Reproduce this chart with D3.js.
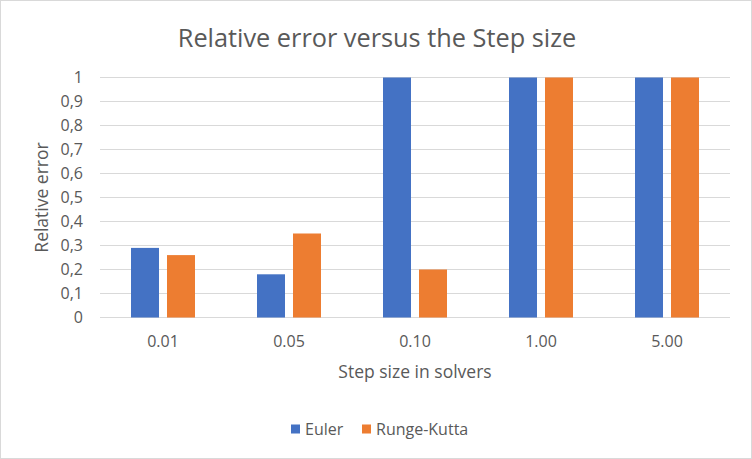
<!DOCTYPE html>
<html>
<head>
<meta charset="utf-8">
<script src="https://cdn.jsdelivr.net/npm/d3@7"></script>
<style>
  body { margin: 0; background: #fff; }
  text { font-family: "Open Sans", "Noto Sans", sans-serif; fill: #595959; }
</style>
</head>
<body>
<svg id="chart" width="752" height="459"></svg>
<script>
// chart data
const categories = ["0.01", "0.05", "0.10", "1.00", "5.00"];
const seriesNames = ["Euler", "Runge-Kutta"];
const euler = [0.29, 0.18, 1, 1, 1];
const rungeKutta = [0.26, 0.35, 0.2, 1, 1];
const yTicks = [0, 0.1, 0.2, 0.3, 0.4, 0.5, 0.6, 0.7, 0.8, 0.9, 1];
const yTickLabels = ["0", "0,1", "0,2", "0,3", "0,4", "0,5", "0,6", "0,7", "0,8", "0,9", "1"];
const colors = ["#4472C4", "#ED7D31"];

const svg = d3.select("#chart");
const W = 752, H = 459;
const m = { left: 100, right: 22, top: 77.5, bottom: 141.5 };

// chart border
svg.append("rect")
    .attr("x", 0.5).attr("y", 0.5)
    .attr("width", W - 1).attr("height", H - 1)
    .attr("fill", "#fff")
    .attr("stroke", "#d9d9d9");

const x0 = d3.scaleBand()
    .domain(categories)
    .range([m.left, W - m.right]);
const x1 = d3.scaleBand()
    .domain(seriesNames)
    .range([31, 95])
    .paddingInner(8 / 36);
const y = d3.scaleLinear()
    .domain([0, 1])
    .range([H - m.bottom, m.top]);

// gridlines
svg.append("g")
    .selectAll("line")
    .data(yTicks)
    .join("line")
    .attr("x1", m.left).attr("x2", W - m.right)
    .attr("y1", d => y(d)).attr("y2", d => y(d))
    .attr("stroke", "#d9d9d9")
    .attr("stroke-width", 1);

// y axis labels
const yAxis = d3.axisLeft(y)
    .tickValues(yTicks)
    .tickFormat((d, i) => yTickLabels[i])
    .tickSize(0)
    .tickPadding(17);
svg.append("g")
    .attr("transform", `translate(${m.left},0)`)
    .call(yAxis)
    .call(g => g.select(".domain").remove())
    .call(g => g.selectAll("text")
        .attr("fill", "#595959")
        .style("font-family", "'Open Sans', sans-serif")
        .style("font-size", "16px"));

// bars
const rows = categories.map((c, i) => ({ cat: c, vals: [euler[i], rungeKutta[i]] }));
const groups = svg.append("g")
    .selectAll("g")
    .data(rows)
    .join("g")
    .attr("transform", d => `translate(${x0(d.cat)},0)`);
groups.selectAll("rect")
    .data(d => d.vals.map((v, j) => ({ name: seriesNames[j], v: v, j: j })))
    .join("rect")
    .attr("x", d => x1(d.name))
    .attr("width", x1.bandwidth())
    .attr("y", d => y(d.v))
    .attr("height", d => y(0) - y(d.v))
    .attr("fill", d => colors[d.j]);

// x axis labels
const xAxis = d3.axisBottom(x0).tickSize(0).tickPadding(18);
svg.append("g")
    .attr("transform", `translate(0,${y(0)})`)
    .call(xAxis)
    .call(g => g.select(".domain").remove())
    .call(g => g.selectAll("text")
        .attr("fill", "#595959")
        .style("font-family", "'Open Sans', sans-serif")
        .style("font-size", "16px"));

// title
svg.append("text")
    .attr("x", 377).attr("y", 47)
    .attr("text-anchor", "middle")
    .style("font-size", "25.3px")
    .text("Relative error versus the Step size");

// axis titles
svg.append("text")
    .attr("x", 415).attr("y", 378)
    .attr("text-anchor", "middle")
    .style("font-size", "17.5px")
    .text("Step size in solvers");

svg.append("text")
    .attr("transform", "translate(48,197.5) rotate(-90)")
    .attr("text-anchor", "middle")
    .style("font-size", "17.5px")
    .text("Relative error");

// legend
const legend = svg.append("g").attr("transform", "translate(291,429)");
const legendX = [0, 71];
seriesNames.forEach((s, i) => {
    legend.append("rect")
        .attr("x", legendX[i]).attr("y", -4.5)
        .attr("width", 9).attr("height", 9)
        .attr("fill", colors[i]);
    legend.append("text")
        .attr("x", legendX[i] + 14).attr("y", 5.5)
        .style("font-size", "16px")
        .text(s);
});
</script>
</body>
</html>
